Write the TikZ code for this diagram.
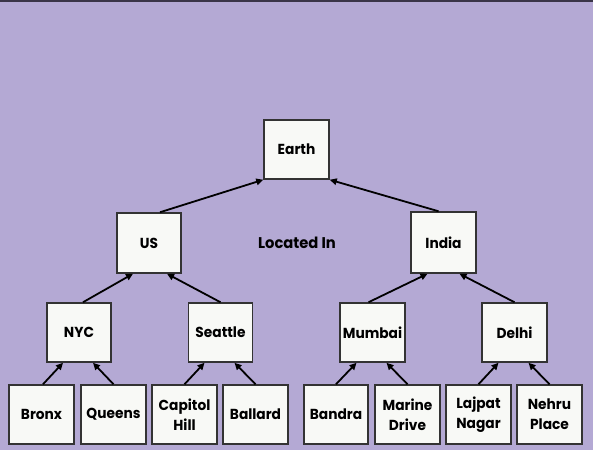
\documentclass[tikz,border=0pt]{standalone}
\usepackage{fontspec}
\setmainfont{Poppins}[FakeStretch=0.95]
\usetikzlibrary{arrows.meta}
\definecolor{bg}{HTML}{B4A9D4}
\definecolor{boxfill}{HTML}{F8F9F6}
\definecolor{boxdraw}{HTML}{333333}
\definecolor{topline}{HTML}{3A3548}
\begin{document}
\begin{tikzpicture}[x=1pt,y=-1pt,
  box/.style={draw=boxdraw,line width=1.5pt,fill=boxfill,minimum width=64pt,minimum height=59pt,
    inner sep=0.5pt,align=center,font=\bfseries\fontsize{14.5}{20}\selectfont},
  link/.style={-{Triangle[length=7pt,width=6.5pt]},line width=1.8pt,black}]
\useasboundingbox (0,0) rectangle (593,450);
\fill[bg] (0,0) rectangle (593,450);
\fill[topline] (0,0) rectangle (593,1.5);
% nodes
\node[box,minimum width=65pt] (earth) at (296.5,149.5) {Earth};
\node[box,minimum height=60pt] (us) at (149,243) {US};
\node[box,minimum width=65pt,minimum height=61pt] (india) at (443.5,242.5) {India};
\node[font=\bfseries\fontsize{15.5}{18}\selectfont] (loc) at (297,243) {Located In};
\node[box] (nyc) at (79,332.5) {NYC};
\node[box] (seattle) at (220.5,332.5) {Seattle};
\node[box,minimum width=65pt] (mumbai) at (372.5,332.5) {Mumbai};
\node[box,minimum width=65pt] (delhi) at (514.5,332.5) {Delhi};
\node[box,minimum width=65pt] (bronx) at (41.5,414.5) {Bronx};
\node[box,minimum width=65pt] (queens) at (113.5,414.5) {Queens};
\node[box,minimum width=65pt] (capitol) at (184.5,414.5) {Capitol\\Hill};
\node[box,minimum width=65pt] (ballard) at (255.5,414.5) {Ballard};
\node[box] (bandra) at (336,414.5) {Bandra};
\node[box,minimum width=65pt] (marine) at (407.5,414.5) {Marine\\Drive};
\node[box,minimum width=65pt] (lajpat) at (478.5,414.5) {Lajpat\\Nagar};
\node[box,minimum width=65pt] (nehru) at (549.5,414.5) {Nehru\\Place};
% connectors
\draw[link] ([xshift=11pt]us.north) -- (earth.south west);
\draw[link] ([xshift=-5pt]india.north) -- (earth.south east);
\draw[link] ([xshift=4pt]nyc.north) -- ([xshift=-16pt]us.south);
\draw[link] (seattle.north) -- ([xshift=18pt]us.south);
\draw[link] ([xshift=-4pt]mumbai.north) -- ([xshift=-16pt]india.south);
\draw[link] (delhi.north) -- ([xshift=16pt]india.south);
\draw[link] ([xshift=1.5pt]bronx.north) -- ([xshift=-16pt]nyc.south);
\draw[link] (queens.north) -- ([xshift=14pt]nyc.south);
\draw[link] (capitol.north) -- ([xshift=-16pt]seattle.south);
\draw[link] (ballard.north) -- ([xshift=14pt]seattle.south);
\draw[link] (bandra.north) -- ([xshift=-16pt]mumbai.south);
\draw[link] (marine.north) -- ([xshift=14pt]mumbai.south);
\draw[link] (lajpat.north) -- ([xshift=-16pt]delhi.south);
\draw[link] (nehru.north) -- ([xshift=14pt]delhi.south);
\end{tikzpicture}
\end{document}
